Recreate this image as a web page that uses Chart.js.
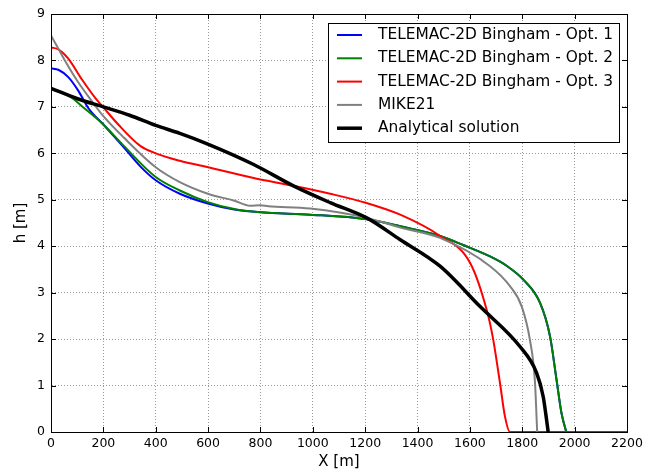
<!DOCTYPE html>
<html>
<head>
<meta charset="utf-8">
<script src="https://cdn.jsdelivr.net/npm/chart.js@4/dist/chart.umd.min.js"></script>
<style>
  html, body { margin: 0; padding: 0; background: #fff; }
  #wrap { width: 657px; height: 473px; }
</style>
</head>
<body>
<div id="wrap"><canvas id="profile"></canvas></div>
<script>
// h(X) profiles
const xOpt1 = [0, 28, 66, 104, 143, 200, 278, 341, 400, 492, 599, 700, 800, 990, 1206, 1334, 1486, 1577, 1677, 1740, 1804, 1868, 1906, 1931, 1950, 1968];
const hOpt1 = [7.83, 7.80, 7.64, 7.35, 6.97, 6.62, 6.13, 5.72, 5.42, 5.13, 4.92, 4.79, 4.73, 4.68, 4.58, 4.43, 4.22, 4.02, 3.78, 3.58, 3.28, 2.78, 2.06, 1.12, 0.40, 0];

const xOpt2 = [0, 79, 117, 168, 200, 278, 400, 492, 599, 700, 800, 990, 1206, 1334, 1486, 1577, 1677, 1740, 1804, 1868, 1906, 1931, 1950, 1968];
const hOpt2 = [7.40, 7.20, 7.02, 6.78, 6.62, 6.16, 5.49, 5.20, 4.95, 4.80, 4.73, 4.68, 4.58, 4.43, 4.22, 4.02, 3.78, 3.58, 3.28, 2.78, 2.06, 1.12, 0.40, 0];

const xOpt3 = [0, 28, 66, 117, 168, 200, 257, 341, 400, 492, 600, 774, 926, 1066, 1206, 1334, 1486, 1601, 1664, 1689, 1715, 1734, 1753, 2200];
const hOpt3 = [8.28, 8.24, 8.04, 7.60, 7.20, 6.99, 6.62, 6.16, 6.00, 5.84, 5.70, 5.47, 5.30, 5.13, 4.93, 4.68, 4.22, 3.64, 2.63, 1.99, 1.05, 0.33, 0, 0];

const xMike = [0, 53, 104, 155, 200, 278, 400, 492, 599, 700, 761, 798, 830, 990, 1206, 1334, 1486, 1677, 1753, 1798, 1829, 1848, 1857];
const hMike = [8.54, 8.00, 7.53, 7.13, 6.80, 6.34, 5.70, 5.38, 5.13, 4.98, 4.87, 4.88, 4.86, 4.81, 4.61, 4.40, 4.18, 3.57, 3.14, 2.70, 1.99, 1.12, 0];

const xExact = [0, 104, 200, 300, 400, 492, 599, 774, 926, 1066, 1206, 1334, 1486, 1639, 1791, 1855, 1880, 1899];
const hExact = [7.40, 7.17, 7.00, 6.82, 6.60, 6.43, 6.20, 5.76, 5.30, 4.94, 4.61, 4.14, 3.57, 2.70, 1.84, 1.27, 0.76, 0];

const seriesNames = ['TELEMAC-2D Bingham - Opt. 1', 'TELEMAC-2D Bingham - Opt. 2', 'TELEMAC-2D Bingham - Opt. 3', 'MIKE21', 'Analytical solution'];

const FONT = 'DejaVu Sans';

function pts(xs, hs) {
    return xs.map((x, i) => ({ x: x, y: hs[i] }));
}

function line(i, xs, hs, color, width, order) {
    return {
        label: seriesNames[i],
        data: pts(xs, hs),
        showLine: true,
        borderColor: color,
        backgroundColor: color,
        borderWidth: width,
        pointRadius: 0,
        cubicInterpolationMode: 'monotone',
        order: order
    };
}

// matplotlib-ish frame: inward ticks on all sides, top/right spines
const frame = {
    id: 'frame',
    afterDraw(chart) {
        const { ctx, chartArea: a, scales } = chart;
        ctx.save();
        ctx.strokeStyle = '#000';
        ctx.lineWidth = 1;
        ctx.beginPath();
        scales.x.ticks.forEach(t => {
            const px = Math.round(scales.x.getPixelForValue(t.value)) + 0.5;
            ctx.moveTo(px, a.bottom); ctx.lineTo(px, a.bottom - 5);
            ctx.moveTo(px, a.top); ctx.lineTo(px, a.top + 5);
        });
        scales.y.ticks.forEach(t => {
            const py = Math.round(scales.y.getPixelForValue(t.value)) + 0.5;
            ctx.moveTo(a.left, py); ctx.lineTo(a.left + 5, py);
            ctx.moveTo(a.right, py); ctx.lineTo(a.right - 5, py);
        });
        ctx.stroke();
        ctx.strokeRect(Math.round(a.left) + 0.5, Math.round(a.top) + 0.5,
            Math.round(a.right - a.left), Math.round(a.bottom - a.top));
        ctx.restore();
    }
};

// legend box in the upper right corner of the plot
const innerLegend = {
    id: 'innerLegend',
    afterDraw(chart) {
        const { ctx } = chart;
        const boxL = 328, boxT = 23, boxW = 291, boxH = 119;
        ctx.save();
        ctx.fillStyle = '#fff';
        ctx.fillRect(boxL, boxT, boxW, boxH);
        ctx.strokeStyle = '#000';
        ctx.lineWidth = 1;
        ctx.strokeRect(boxL + 0.5, boxT + 0.5, boxW, boxH);
        ctx.font = '15.4px "' + FONT + '"';
        ctx.textBaseline = 'middle';
        ctx.textAlign = 'left';
        chart.data.datasets.forEach((ds, i) => {
            const y = boxT + 12 + i * 23.3;
            ctx.strokeStyle = ds.borderColor;
            ctx.lineWidth = ds.borderWidth;
            ctx.beginPath();
            ctx.moveTo(337, y);
            ctx.lineTo(362, y);
            ctx.stroke();
            ctx.fillStyle = '#000';
            ctx.fillText(ds.label, 378, y);
        });
        ctx.restore();
    }
};

const chart = new Chart(document.getElementById('profile'), {
    type: 'scatter',
    data: {
        datasets: [
            line(0, xOpt1, hOpt1, '#0000ff', 2, 5),
            line(1, xOpt2, hOpt2, '#008000', 2, 4),
            line(2, xOpt3, hOpt3, '#ff0000', 2, 3),
            line(3, xMike, hMike, '#808080', 2, 2),
            line(4, xExact, hExact, '#000000', 3.5, 1)
        ]
    },
    options: {
        responsive: true,
        maintainAspectRatio: false,
        animation: false,
        layout: { padding: { top: 14, right: 30, left: 0, bottom: 0 } },
        plugins: {
            legend: { display: false },
            tooltip: { enabled: false }
        },
        scales: {
            x: {
                type: 'linear',
                min: 0,
                max: 2200,
                ticks: { stepSize: 200, color: '#000', padding: 4, maxRotation: 0,
                         callback: v => String(v),
                         font: { family: FONT, size: 12.5 } },
                grid: { color: 'rgba(0,0,0,0.5)', lineWidth: 0.8, drawTicks: false },
                border: { display: true, color: '#000', dash: [1, 2] },
                title: { display: true, text: 'X [m]', color: '#000',
                         font: { family: FONT, size: 15 }, padding: { top: 0, bottom: 2 } },
                afterFit(s) { s.height = 41; }
            },
            y: {
                type: 'linear',
                min: 0,
                max: 9,
                ticks: { stepSize: 1, color: '#000', padding: 6,
                         callback: v => String(v),
                         font: { family: FONT, size: 12.5 } },
                grid: { color: 'rgba(0,0,0,0.5)', lineWidth: 0.8, drawTicks: false },
                border: { display: true, color: '#000', dash: [1, 2] },
                title: { display: true, text: 'h [m]', color: '#000',
                         font: { family: FONT, size: 15 }, padding: { top: 12, bottom: 0 } },
                afterFit(s) { s.width = 51; }
            }
        }
    },
    plugins: [frame, innerLegend]
});
</script>
</body>
</html>
